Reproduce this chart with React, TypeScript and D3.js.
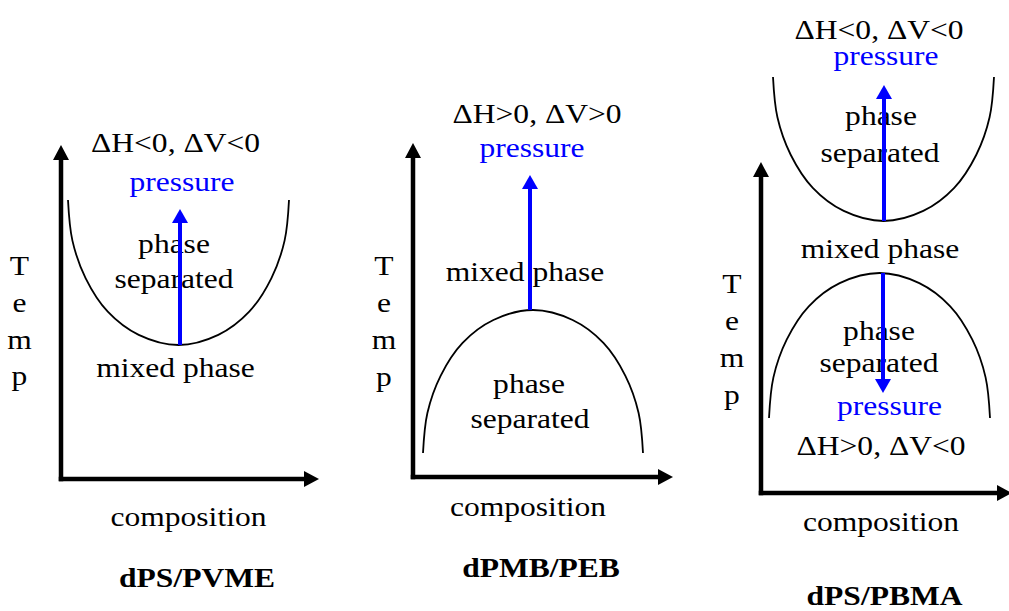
import React from 'react';
import * as d3 from 'd3';

// relative position along the composition axis and the height of the phase boundary (0 = end, 1 = apex)
const boundaryComposition = [0, 0.02, 0.08, 0.18, 0.32, 0.5, 0.68, 0.82, 0.92, 0.98, 1];
const boundaryHeight = [0, 0.28, 0.54, 0.77, 0.93, 1, 0.93, 0.77, 0.54, 0.28, 0];

const panelTitles = ['dPS/PVME', 'dPMB/PEB', 'dPS/PBMA'];
const xAxisLabel = 'composition';
const yAxisLetters = ['T', 'e', 'm', 'p'];

const panel1Labels = ['ΔH<0, ΔV<0', 'pressure', 'phase', 'separated', 'mixed phase'];
const panel2Labels = ['ΔH>0, ΔV>0', 'pressure', 'mixed phase', 'phase', 'separated'];
const panel3Labels = [
  'ΔH<0, ΔV<0', 'pressure', 'phase', 'separated', 'mixed phase',
  'phase', 'separated', 'pressure', 'ΔH>0, ΔV<0',
];

const FONT = "'Liberation Serif','Times New Roman',Times,serif";
const BLUE = '#0000ff';
const FS = 26.5;
const STRETCH = 1.19;

interface Layout {
  x0: number; y0: number; xEnd: number; yEnd: number;
  tempX: number; tempY: number[];
  curves: { left: number; right: number; base: number; apex: number }[];
  arrows: { x: number; from: number; to: number }[];
  labels: string[];
  labelPos: [number, number, boolean][]; // cx, baseline, blue
  compPos: [number, number];
  titlePos: [number, number];
}

const layouts: Layout[] = [
  {
    x0: 61, y0: 479, xEnd: 319, yEnd: 145, tempX: 19.5, tempY: [275, 312, 349, 385],
    curves: [{ left: 68, right: 289, base: 200, apex: 345 }],
    arrows: [{ x: 180, from: 345, to: 209 }],
    labels: panel1Labels,
    labelPos: [[175.5, 152, false], [182, 191, true], [174, 253, false], [174, 288, false], [175.5, 377, false]],
    compPos: [188.5, 526], titlePos: [197, 587],
  },
  {
    x0: 413, y0: 477, xEnd: 673, yEnd: 143, tempX: 384, tempY: [275, 312, 349, 386],
    curves: [{ left: 423, right: 643, base: 453, apex: 310 }],
    arrows: [{ x: 530, from: 310, to: 175 }],
    labels: panel2Labels,
    labelPos: [[537, 123, false], [532, 157, true], [525, 281, false], [529, 393, false], [530, 428, false]],
    compPos: [528, 516], titlePos: [541, 577],
  },
  {
    x0: 761, y0: 493, xEnd: 1012, yEnd: 162, tempX: 732, tempY: [293, 330, 367, 404],
    curves: [
      { left: 773, right: 994, base: 77, apex: 221 },
      { left: 769, right: 990, base: 418, apex: 273 },
    ],
    arrows: [{ x: 884, from: 221, to: 85 }, { x: 883, from: 273, to: 393 }],
    labels: panel3Labels,
    labelPos: [
      [879, 39, false], [886, 65, true], [881, 125, false], [880, 162, false], [880, 258, false],
      [879, 340, false], [879, 372, false], [889.5, 415, true], [881, 455, false],
    ],
    compPos: [881, 531], titlePos: [884.5, 605],
  },
];

const Label: React.FC<{ x: number; y: number; text: string; color?: string; bold?: boolean }> = ({ x, y, text, color = '#000', bold }) => (
  <text
    transform={`translate(${x},${y}) scale(${STRETCH},1)`}
    textAnchor="middle"
    fontFamily={FONT}
    fontSize={FS}
    fontWeight={bold ? 'bold' : 'normal'}
    fill={color}
  >
    {text}
  </text>
);

const Panel: React.FC<{ layout: Layout; title: string }> = ({ layout, title }) => {
  const { x0, y0, xEnd, yEnd } = layout;
  const head = 15;
  const pts = boundaryComposition.map((c, i) => [c, boundaryHeight[i]] as [number, number]);

  return (
    <g>
      {/* axes */}
      <line x1={x0} y1={y0} x2={xEnd - head + 1} y2={y0} stroke="#000" strokeWidth={4.5} strokeLinecap="square" />
      <line x1={x0} y1={y0} x2={x0} y2={yEnd + head - 1} stroke="#000" strokeWidth={4.5} strokeLinecap="square" />
      <polygon points={`${xEnd},${y0} ${xEnd - head},${y0 - 8} ${xEnd - head},${y0 + 8}`} fill="#000" />
      <polygon points={`${x0},${yEnd} ${x0 - 8},${yEnd + head} ${x0 + 8},${yEnd + head}`} fill="#000" />

      {/* phase boundaries */}
      {layout.curves.map((c, i) => {
        const xs = d3.scaleLinear().domain([0, 1]).range([c.left, c.right]);
        const ys = d3.scaleLinear().domain([0, 1]).range([c.base, c.apex]);
        const line = d3.line<[number, number]>()
          .x(d => xs(d[0]))
          .y(d => ys(d[1]))
          .curve(d3.curveCatmullRom.alpha(0.5));
        return <path key={i} d={line(pts) || ''} fill="none" stroke="#000" strokeWidth={1.8} />;
      })}

      {/* text */}
      {layout.labels.map((t, i) => {
        const [x, y, blue] = layout.labelPos[i];
        return <Label key={i} x={x} y={y} text={t} color={blue ? BLUE : '#000'} />;
      })}

      {/* pressure arrows */}
      {layout.arrows.map((a, i) => {
        const dir = a.to < a.from ? 1 : -1;
        const baseY = a.to + dir * 14;
        return (
          <g key={i}>
            <line x1={a.x} y1={a.from} x2={a.x} y2={baseY} stroke={BLUE} strokeWidth={4} />
            <polygon points={`${a.x},${a.to} ${a.x - 8},${baseY} ${a.x + 8},${baseY}`} fill={BLUE} />
          </g>
        );
      })}

      {yAxisLetters.map((l, i) => (
        <Label key={l} x={layout.tempX} y={layout.tempY[i]} text={l} />
      ))}
      <Label x={layout.compPos[0]} y={layout.compPos[1]} text={xAxisLabel} />
      <Label x={layout.titlePos[0]} y={layout.titlePos[1]} text={title} bold />
    </g>
  );
};

const App: React.FC = () => (
  <svg
    width={1009}
    height={611}
    style={{ position: 'absolute', left: 0, top: 0, background: '#fff' }}
  >
    {layouts.map((l, i) => (
      <Panel key={i} layout={l} title={panelTitles[i]} />
    ))}
  </svg>
);

export default App;
